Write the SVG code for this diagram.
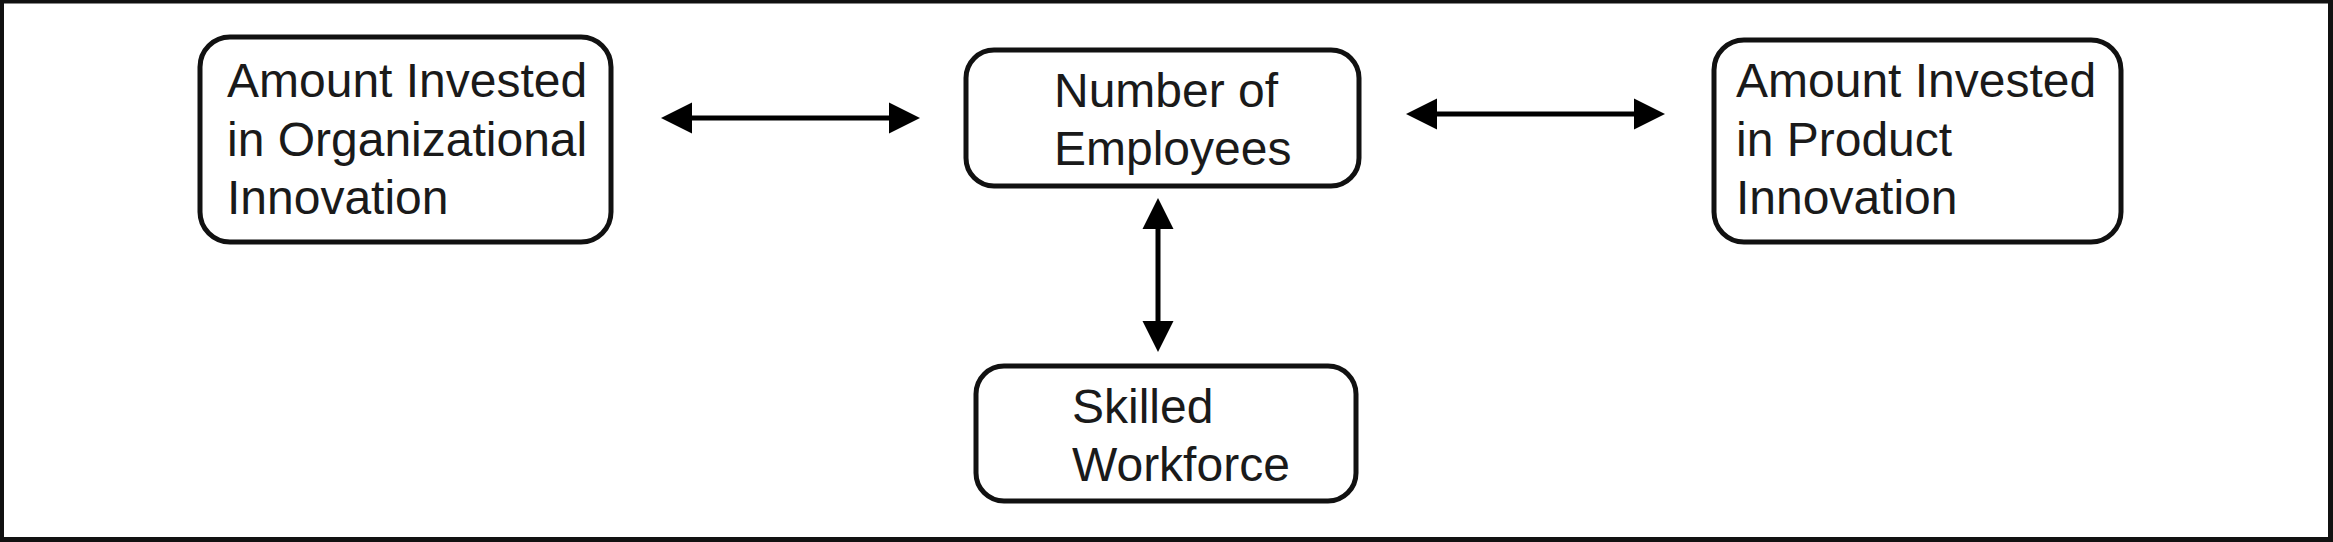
<svg xmlns="http://www.w3.org/2000/svg" width="2333" height="542" viewBox="0 0 2333 542">
  <style>
    .box { fill: #ffffff; stroke: #111111; stroke-width: 5; }
    .lbl { font-family: "Liberation Sans", Arial, sans-serif; font-size: 48px; fill: #1a1a1a; }
    .conn { stroke: #000000; stroke-width: 5; fill: none; marker-start: url(#head); marker-end: url(#head); }
  </style>
  <defs>
    <marker id="head" markerUnits="userSpaceOnUse" markerWidth="32" markerHeight="32" viewBox="0 -16 32 32" refX="1" refY="0" orient="auto-start-reverse">
      <path d="M0,-15.5 L31,0 L0,15.5 Z" fill="#000000"/>
    </marker>
  </defs>
  <rect x="0" y="0" width="2333" height="542" fill="#ffffff"/>
  <rect id="frame" x="1.5" y="1" width="2329" height="538.5" fill="none" stroke="#111111" stroke-width="5"/>

  <g id="node-org">
    <rect class="box" x="200" y="37" width="411" height="205" rx="30" ry="30"/>
    <text class="lbl" x="227" y="97">Amount Invested</text>
    <text class="lbl" x="227" y="156">in Organizational</text>
    <text class="lbl" x="227" y="214">Innovation</text>
  </g>

  <g id="node-employees">
    <rect class="box" x="966" y="50" width="393" height="136" rx="28" ry="28"/>
    <text class="lbl" x="1054" y="107">Number of</text>
    <text class="lbl" x="1054" y="165">Employees</text>
  </g>

  <g id="node-product">
    <rect class="box" x="1714" y="40" width="407" height="202" rx="30" ry="30"/>
    <text class="lbl" x="1736" y="97">Amount Invested</text>
    <text class="lbl" x="1736" y="156">in Product</text>
    <text class="lbl" x="1736" y="214">Innovation</text>
  </g>

  <g id="node-workforce">
    <rect class="box" x="976" y="366" width="380" height="135" rx="28" ry="28"/>
    <text class="lbl" x="1072" y="423">Skilled</text>
    <text class="lbl" x="1072" y="481">Workforce</text>
  </g>

  <g id="connectors">
    <line class="conn" x1="691" y1="118" x2="890" y2="118"/>
    <line class="conn" x1="1436" y1="114" x2="1635" y2="114"/>
    <line class="conn" x1="1158" y1="228" x2="1158" y2="322"/>
  </g>
</svg>
